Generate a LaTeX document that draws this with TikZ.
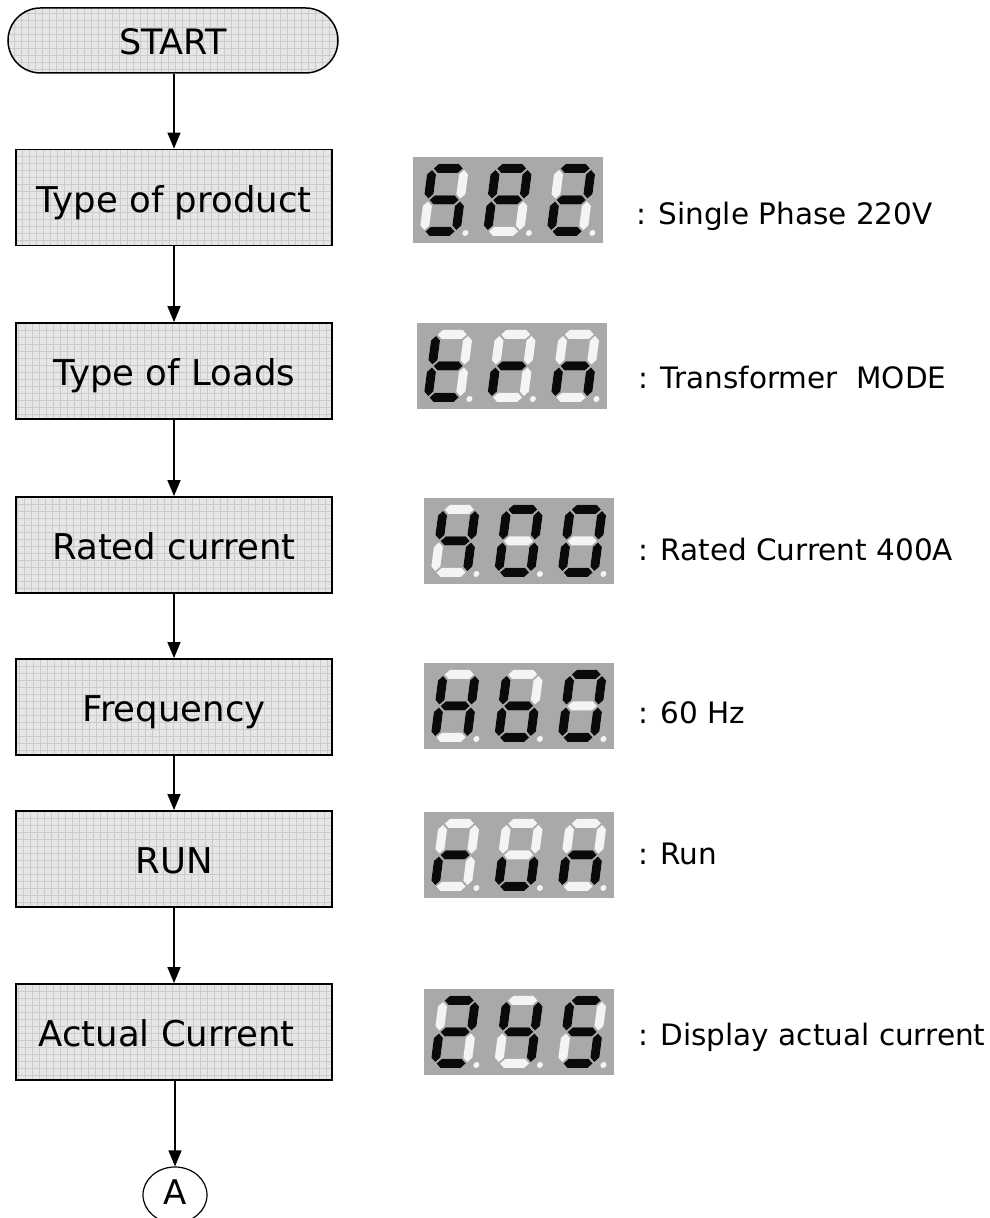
\documentclass[tikz,border=0pt]{standalone}
\usepackage{fontspec}
\setmainfont{DejaVu Sans}
\usetikzlibrary{arrows.meta,shapes.geometric}
\definecolor{boxfill}{HTML}{E6E6E6}
\definecolor{gridc}{HTML}{CBCBCB}
\definecolor{dispbg}{HTML}{A9A9A7}
\definecolor{segon}{HTML}{0A0A0A}
\definecolor{segoff}{HTML}{F4F4F4}

\newcommand\sgpa[1]{\fill[#1] (6,67.5)--(10.5,72)--(30.5,72)--(35,67.5)--(30.5,63)--(10.5,63)--cycle;}
\newcommand\sgpg[1]{\fill[#1] (6,36)--(10.5,40.5)--(30.5,40.5)--(35,36)--(30.5,31.5)--(10.5,31.5)--cycle;}
\newcommand\sgpd[1]{\fill[#1] (6,4.5)--(10.5,9)--(30.5,9)--(35,4.5)--(30.5,0)--(10.5,0)--cycle;}
\newcommand\sgpf[1]{\fill[#1] (4.5,37.5)--(9,42)--(9,61.5)--(4.5,66)--(0,61.5)--(0,42)--cycle;}
\newcommand\sgpe[1]{\fill[#1] (4.5,6)--(9,10.5)--(9,30)--(4.5,34.5)--(0,30)--(0,10.5)--cycle;}
\newcommand\sgpb[1]{\fill[#1] (36.5,37.5)--(41,42)--(41,61.5)--(36.5,66)--(32,61.5)--(32,42)--cycle;}
\newcommand\sgpc[1]{\fill[#1] (36.5,6)--(41,10.5)--(41,30)--(36.5,34.5)--(32,30)--(32,10.5)--cycle;}

\newcommand\ssdigit[2]{%
  \begin{scope}[shift={#1}, xslant=0.13]
    \foreach \s in {a,b,c,d,e,f,g}{\csname sgp\s\endcsname{segoff}}
    \foreach \s in {#2}{\csname sgp\s\endcsname{segon}}
    \fill[segoff] (46,3) circle (3);
  \end{scope}}

\newcommand\ssdisplay[4]{%
  \begin{scope}[shift={#1}]
    \fill[dispbg] (0,0) rectangle (190,86);
    \ssdigit{(6,7)}{#2}
    \ssdigit{(69.5,7)}{#3}
    \ssdigit{(133,7)}{#4}
  \end{scope}}

\tikzset{
  gridfill/.style={fill=boxfill,
    path picture={\draw[gridc, line width=0.7pt]
      (path picture bounding box.south west) grid[step=7pt]
      (path picture bounding box.north east);}},
  stepbox/.style={draw=black, line width=1.8pt, gridfill,
    minimum width=316pt, minimum height=96pt, inner sep=0pt,
    font=\fontsize{35.5}{42}\selectfont, text height=30pt, text depth=0pt},
  startbox/.style={draw=black, line width=1.5pt, gridfill,
    rounded corners=32.5pt, minimum width=330pt, minimum height=65pt,
    inner sep=0pt, font=\fontsize{35}{42}\selectfont, text height=29pt, text depth=0pt},
  conn/.style={draw=black, line width=1.2pt, ellipse,
    minimum width=64pt, minimum height=56pt, inner sep=0pt,
    font=\fontsize{34}{40}\selectfont, text height=20pt, text depth=-2pt},
  arr/.style={line width=1.5pt, -{Triangle[length=16pt,width=13pt]}},
  lbl/.style={anchor=base west, inner sep=0pt, font=\fontsize{29.5}{35}\selectfont}
}

\begin{document}
\begin{tikzpicture}[x=1pt,y=1pt]
\useasboundingbox (0,0) rectangle (990,1218);

\node[startbox] (start) at (173,1177.5) {START};
\node[stepbox] (b1) at (174,1020.5) {Type of product};
\node[stepbox] (b2) at (174,847) {Type of Loads};
\node[stepbox] (b3) at (174,673) {Rated current};
\node[stepbox] (b4) at (174,511) {Frequency};
\node[stepbox] (b5) at (174,359) {RUN};
\node[stepbox] (b6) at (174,186) {\hspace*{-15pt}Actual Current};
\node[conn] (conA) at (175,23) {A};

\draw[arr] (start.south -| b1.north) -- (b1.north);
\draw[arr] (b1) -- (b2);
\draw[arr] (b2) -- (b3);
\draw[arr] (b3) -- (b4);
\draw[arr] (b4) -- (b5);
\draw[arr] (b5) -- (b6);
\draw[arr] (b6.south -| conA.north) -- (conA.north);

\ssdisplay{(413,975)}{a,c,d,f,g}{a,b,e,f,g}{a,b,d,e,g}
\ssdisplay{(417,809)}{d,e,f,g}{e,g}{c,e,g}
\ssdisplay{(424,634)}{b,c,f,g}{a,b,c,d,e,f}{a,b,c,d,e,f}
\ssdisplay{(424,469)}{b,c,e,f,g}{c,d,e,f,g}{a,b,c,d,e,f}
\ssdisplay{(424,320)}{e,g}{c,d,e}{c,e,g}
\ssdisplay{(424,143)}{a,b,d,e,g}{b,c,f,g}{a,c,d,f,g}

\node[lbl] (t1) at (636,993) {: Single Phase 220V};
\node[lbl] (t2) at (638,829) {: Transformer~~MODE};
\node[lbl] (t3) at (638,657) {: Rated Current 400A};
\node[lbl] (t4) at (638,494) {: 60 Hz};
\node[lbl] (t5) at (638,353) {: Run};
\node[lbl] (t6) at (638,172) {: Display actual current};
\end{tikzpicture}
\end{document}
